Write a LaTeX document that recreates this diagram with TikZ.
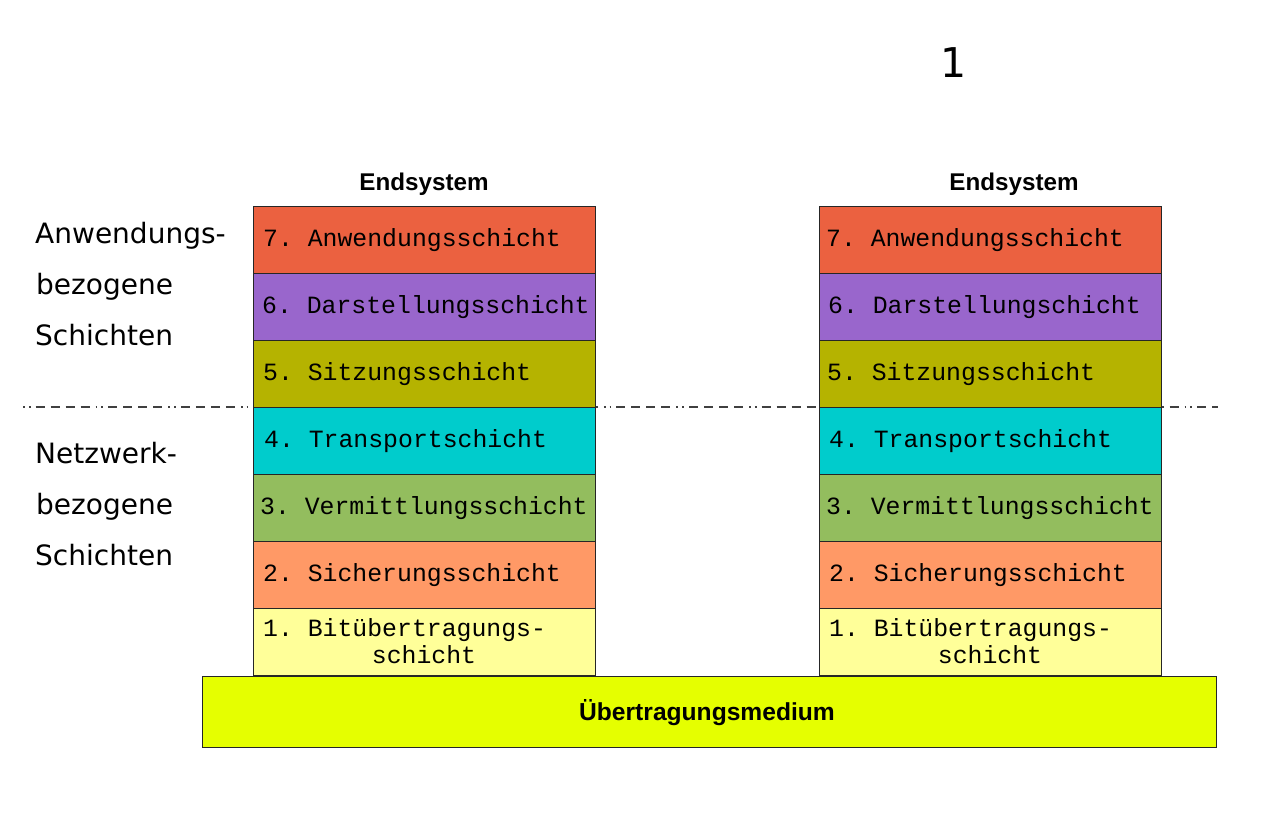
\documentclass[tikz,border=0pt]{standalone}
\usepackage{fontspec}
\setmainfont{Liberation Sans}
\newfontfamily\monof{Liberation Mono}
\newfontfamily\dejav{DejaVu Sans}
\definecolor{cSeven}{HTML}{EB6140}
\definecolor{cSix}{HTML}{9966CC}
\definecolor{cFive}{HTML}{B5B300}
\definecolor{cFour}{HTML}{00CCCC}
\definecolor{cThree}{HTML}{93BD5E}
\definecolor{cTwo}{HTML}{FF9966}
\definecolor{cOne}{HTML}{FFFF99}
\definecolor{cMed}{HTML}{E5FF00}
\begin{document}
\frenchspacing
\begin{tikzpicture}[x=1pt,y=-1pt,
  layer/.style={draw=black!85,line width=0.9pt,minimum width=342pt,minimum height=67pt,inner sep=0pt,outer sep=0pt},
  ltext/.style={anchor=base west,inner sep=0pt,font=\monof\frenchspacing\fontsize{24.8}{28}\selectfont},
  ctext/.style={anchor=base,inner sep=0pt,font=\monof\frenchspacing\fontsize{24.8}{28}\selectfont},
  side/.style={anchor=base west,inner sep=0pt,font=\dejav\fontsize{28}{32}\selectfont},
  head/.style={anchor=base,inner sep=0pt,font=\bfseries\fontsize{24.2}{28}\selectfont}]
\useasboundingbox (0,0) rectangle (1280,830);
% dashed separator
\draw[black!75,line width=1.3pt,dash pattern=on 1.8pt off 4pt on 1.8pt off 5pt on 9pt off 6pt on 9pt off 6pt on 9pt off 6pt on 9pt off 6pt] (23,407) -- (1218,407);
% left stack
\foreach \c/\n [count=\i from 0] in {cSeven/L7,cSix/L6,cFive/L5,cFour/L4,cThree/L3,cTwo/L2,cOne/L1}{
  \node[layer,fill=\c] (\n) at (424,{239.5+67*\i}) {};
}
\foreach \c/\n [count=\i from 0] in {cSeven/R7,cSix/R6,cFive/R5,cFour/R4,cThree/R3,cTwo/R2,cOne/R1}{
  \node[layer,fill=\c] (\n) at (990,{239.5+67*\i}) {};
}
% medium
\node[draw=black!85,line width=0.9pt,fill=cMed,minimum width=1014pt,minimum height=71pt,inner sep=0pt] (med) at (709,711.5) {};
\node[head,font=\bfseries\fontsize{24.6}{28}\selectfont] (medt) at (707,720.5) {Übertragungsmedium};
% headers
\node[head] (hl) at (424,190) {Endsystem};
\node[head] (hr) at (1014,190) {Endsystem};
\node[anchor=base,inner sep=0pt,font=\dejav\fontsize{41}{46}\selectfont] (num) at (954,77) {1};
% left layer texts
\node[ltext] (t7l) at (263,246.5) {7. Anwendungsschicht};
\node[ltext] (t6l) at (262,313.5) {6. Darstellungsschicht};
\node[ltext] (t5l) at (263,380.5) {5. Sitzungsschicht};
\node[ltext] (t4l) at (264,447.5) {4. Transportschicht};
\node[ltext] (t3l) at (260,514.5) {3. Vermittlungsschicht};
\node[ltext] (t2l) at (263,581.5) {2. Sicherungsschicht};
\node[ltext] (t1l) at (263,636) {1. Bitübertragungs-};
\node[ctext] (t1lb) at (424,663) {schicht};
% right layer texts
\node[ltext] (t7r) at (826,246.5) {7. Anwendungsschicht};
\node[ltext] (t6r) at (828,313.5) {6. Darstellungschicht};
\node[ltext] (t5r) at (827,380.5) {5. Sitzungsschicht};
\node[ltext] (t4r) at (829,447.5) {4. Transportschicht};
\node[ltext] (t3r) at (826,514.5) {3. Vermittlungsschicht};
\node[ltext] (t2r) at (829,581.5) {2. Sicherungsschicht};
\node[ltext] (t1r) at (829,636) {1. Bitübertragungs-};
\node[ctext] (t1rb) at (990,663) {schicht};
% side labels
\node[side] (s1) at (35,243) {Anwendungs-};
\node[side] (s2) at (36,294) {bezogene};
\node[side] (s3) at (35,345) {Schichten};
\node[side] (s4) at (35,463) {Netzwerk-};
\node[side] (s5) at (36,514) {bezogene};
\node[side] (s6) at (35,565) {Schichten};
\end{tikzpicture}
\end{document}
